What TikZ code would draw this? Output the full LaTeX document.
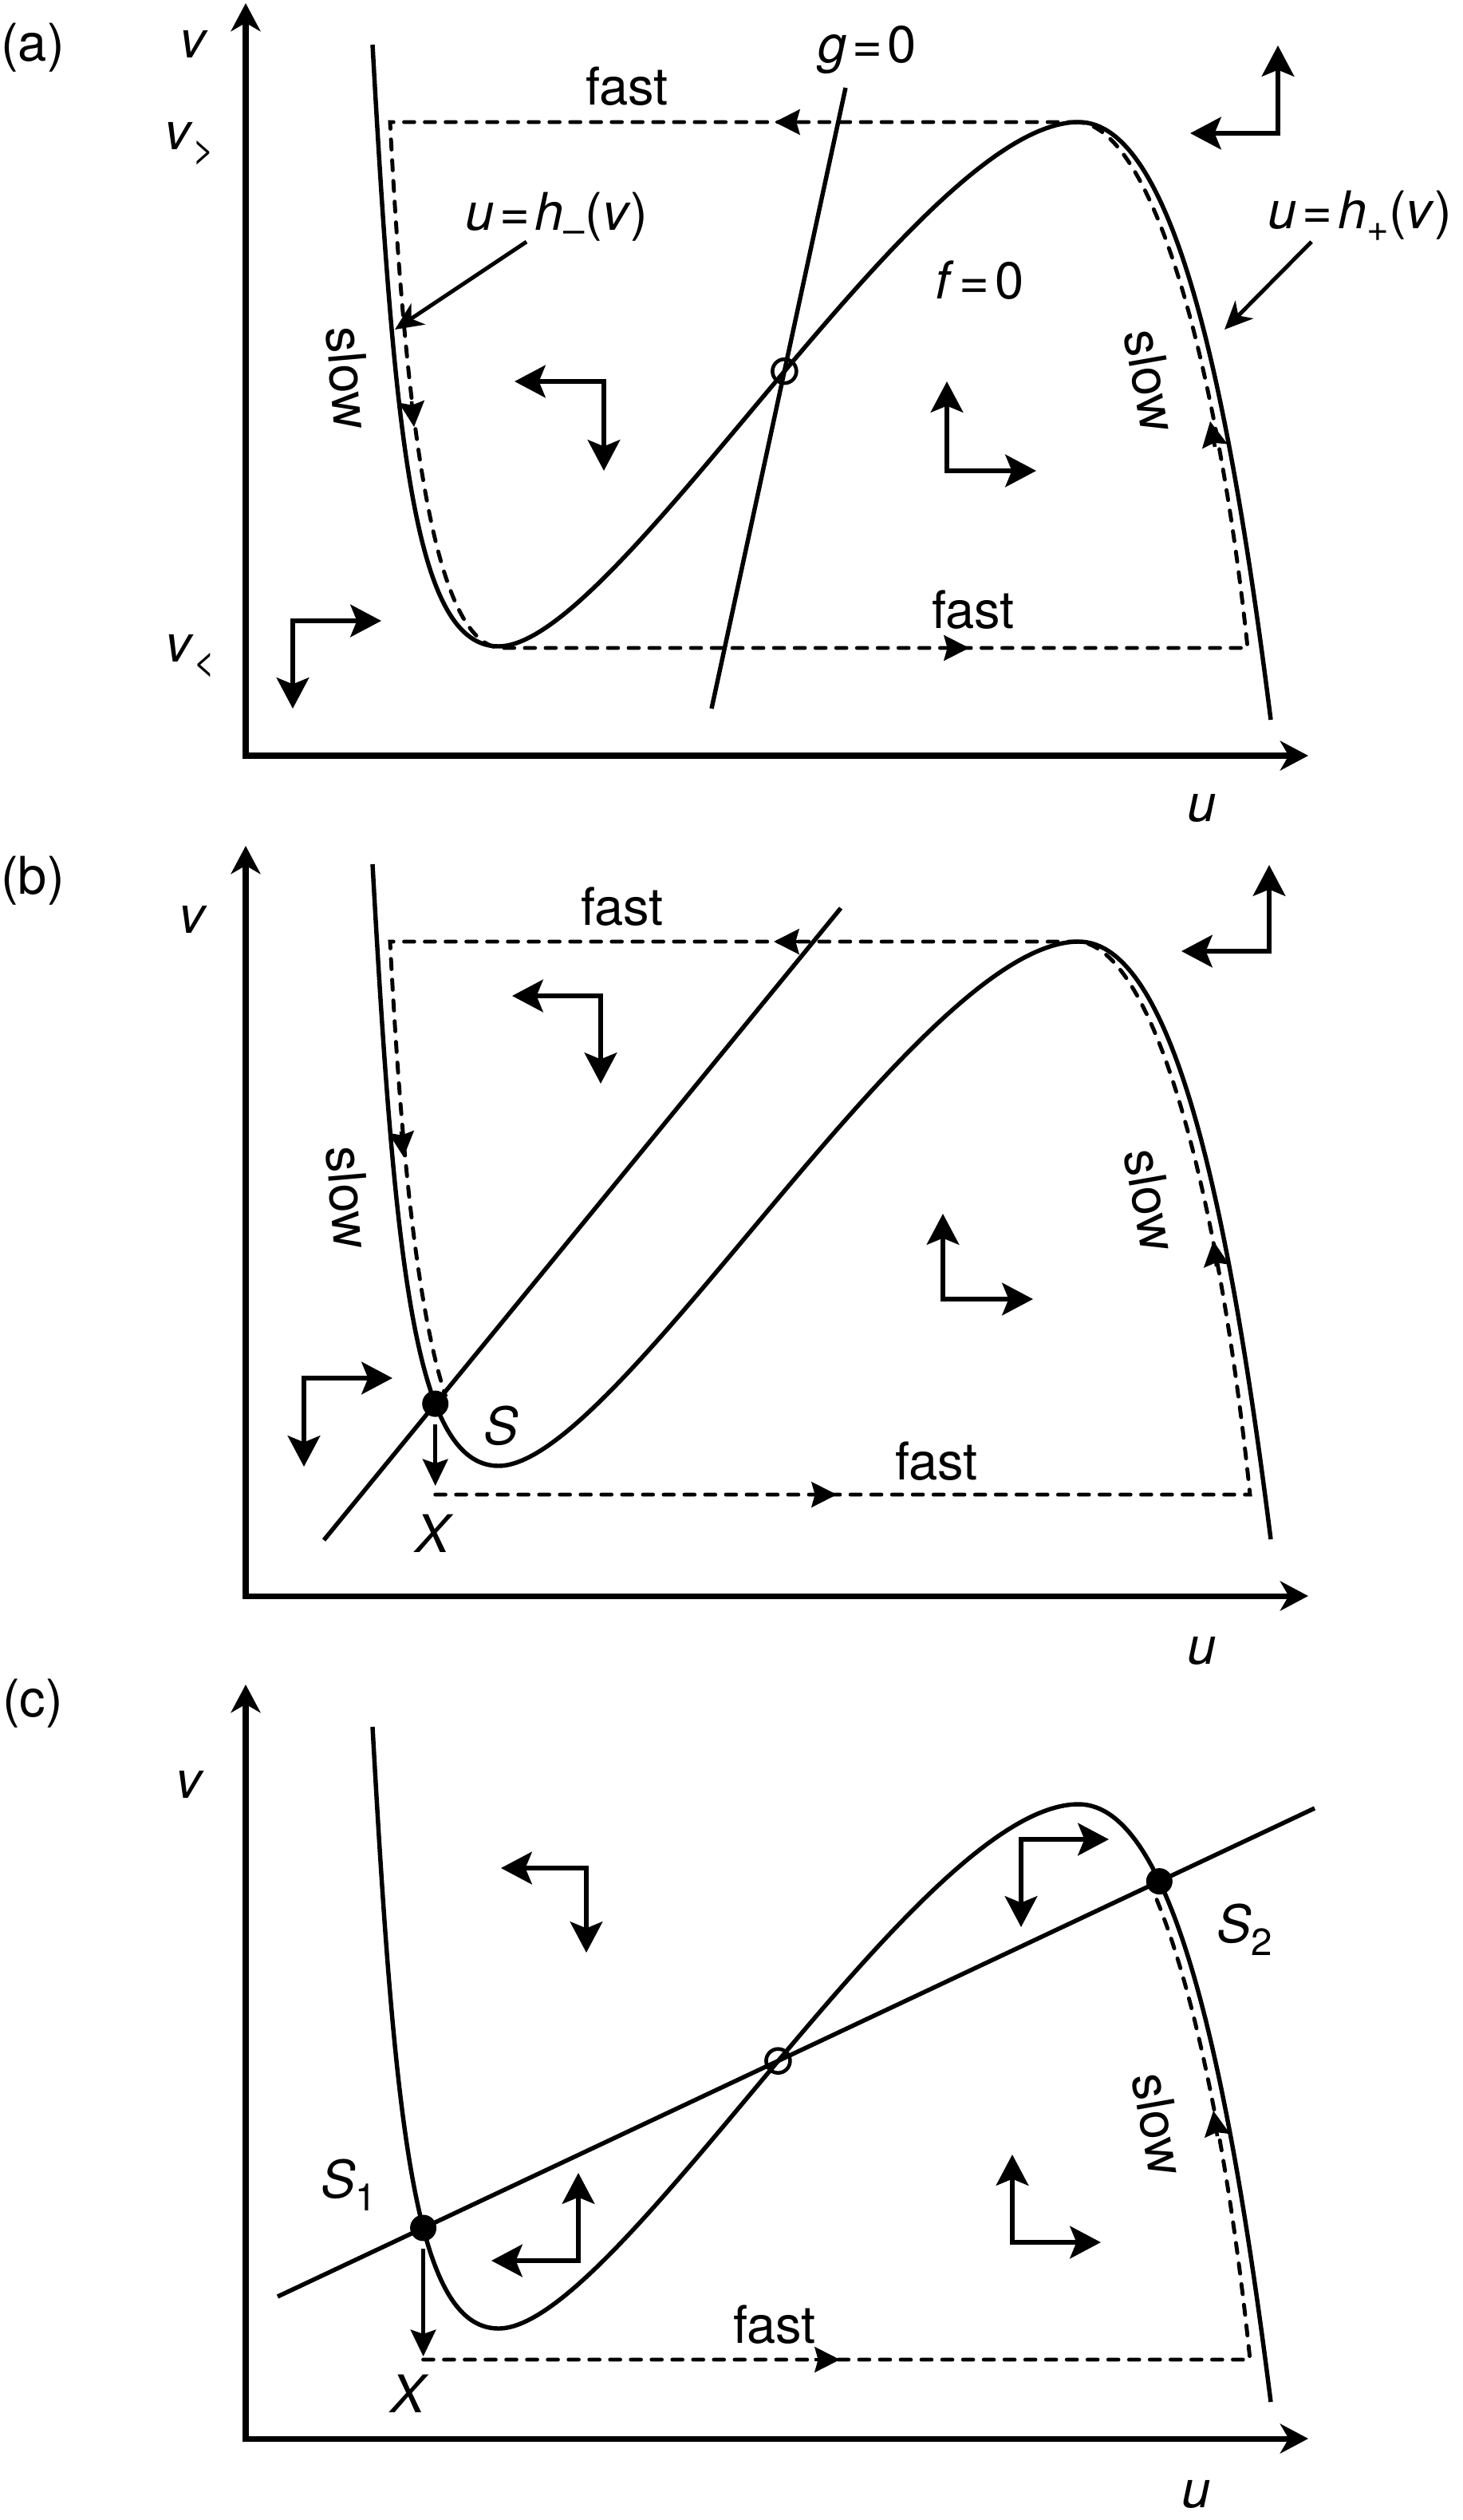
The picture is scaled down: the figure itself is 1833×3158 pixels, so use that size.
\documentclass[tikz,border=0pt]{standalone}
\usepackage{fontspec}
\setmainfont{TeX Gyre Heros}
\usetikzlibrary{arrows.meta,intersections,calc}

\newcommand\lblfont{\fontsize{18.5pt}{22pt}\selectfont}
\newcommand\sbs[1]{\raisebox{-4.5pt}{\fontsize{13.5pt}{13.5pt}\selectfont #1}}
\newcommand\eqs{\hspace{0.1em}=\hspace{0.1em}}
\newcommand\fpath{(467,56) .. controls (495,560) and (520,810) .. (625,810) .. controls (775,810) and (1152,153) .. (1352,153) .. controls (1470,153) and (1540,480) .. (1593,902)}

\tikzset{
  lbl/.style={inner sep=0pt, font=\lblfont},
  axisline/.style={line width=2pt, {Stealth[length=10pt,width=10.5pt,inset=3pt]}-{Stealth[length=10pt,width=10.5pt,inset=3pt]}},
  curve/.style={line width=1.55pt},
  traj/.style={line width=1.4pt, dash pattern=on 3.6pt off 3.8pt, line cap=round},
  trajtip/.style={line width=1.3pt, -{Stealth[length=9pt,width=9pt,inset=1.2pt]}},
  field/.style={line width=1.7pt, {Stealth[length=11pt,width=11.5pt,inset=2.3pt]}-{Stealth[length=11pt,width=11.5pt,inset=2.3pt]}},
  pointer/.style={line width=1.4pt, -{Stealth[length=10pt,width=9pt,inset=3pt]}},
  jump/.style={line width=1.3pt, -{Stealth[length=9.5pt,width=9pt,inset=1.5pt]}}
}

\begin{document}
\begin{tikzpicture}[x={(0.01cm,0)}, y={(0,-0.01cm)}]
\useasboundingbox (0,0) rectangle (1833,3158);

% ================= panel (a) =================
\draw[axisline] (308,4) -- (308,947) -- (1640,947);
\draw[curve, name path global=fa] \fpath;
\draw[curve, name path global=ga] (1060,110) -- (892,888);
\path[name intersections={of=fa and ga, name=ia}];
\draw[line width=1.3pt] (ia-1) circle[radius=15];

\draw[traj] (1352,153) -- (489,153) .. controls (510,560) and (548,812) .. (630,812) -- (1564,812) .. controls (1528,470) and (1448,162) .. (1352,153);
\draw[trajtip] (1003,153) -- (971,153);
\draw[trajtip] (516,503) -- (519,535);
\draw[trajtip] (1183,812) -- (1215,812);
\draw[trajtip] (1523,560) -- (1517,528);

\draw[field] (1492,167) -- (1602,167) -- (1602,57);
\draw[field] (645,478) -- (757,478) -- (757,590);
\draw[field] (1299,590) -- (1187,590) -- (1187,478);
\draw[field] (478,778) -- (367,778) -- (367,888);

\node[lbl] (la) at (41,60) {(a)};
\node[lbl] (va) at (243,55) {\textit{v}};
\node[lbl] (vgt) at (238,180) {\textit{v}\sbs{>}};
\node[lbl] (vlt) at (239,822) {\textit{v}\sbs{<}};
\node[lbl] (ua) at (1507,1013) {\textit{u}};
\node[lbl] (fasta1) at (786,108) {fast};
\node[lbl] (fasta2) at (1220,764) {fast};
\node[lbl] (geq) at (1087,63) {\textit{g}\eqs 0};
\node[lbl] (feq) at (1228,351) {\textit{f}\eqs 0};
\node[lbl] (hm) at (698,273) {\textit{u}\eqs\textit{h}\sbs{–}(\textit{v})};
\node[lbl] (hp) at (1705,271) {\textit{u}\eqs\textit{h}\sbs{+}(\textit{v})};
\node[lbl, rotate=-85] (sla1) at (437,474) {slow};
\node[lbl, rotate=-80] (sla2) at (1443,477) {slow};

\coordinate (hmfrom) at (660,303);
\coordinate (hmtip) at (495,413);
\coordinate (hpfrom) at (1644,303);
\coordinate (hptip) at (1535,413);
\draw[pointer] (hmfrom) -- (hmtip);
\draw[pointer] (hpfrom) -- (hptip);

% ================= panel (b) =================
\draw[axisline] (308,1060) -- (308,2000) -- (1640,2000);
\begin{scope}[shift={(0,1027)}]
  \draw[curve, name path global=fb] \fpath;
\end{scope}
\draw[curve, name path global=gb] (406,1930) -- (1054,1138);
\path[name intersections={of=fb and gb, name=ib}];

\begin{scope}[shift={(0,1027)}]
  \clip (0,0) rectangle (1833,722);
  \draw[traj] (1352,153) -- (489,153) .. controls (510,560) and (548,812) .. (630,812);
\end{scope}
\coordinate (bbot) at (0,1873);
\draw[traj] (ib-1 |- bbot) -- (1567,1873) .. controls (1528,1497) and (1448,1189) .. (1352,1180);
\fill (ib-1) circle[radius=16.5];

\draw[trajtip] (1002,1180) -- (970,1180);
\draw[trajtip] (503,1418) -- (506,1450);
\draw[trajtip] (1017,1873) -- (1049,1873);
\draw[trajtip] (1525,1587) -- (1521,1555);

\coordinate (bjump) at (0,1862);
\draw[jump] ($(ib-1)+(0,26)$) -- (ib-1 |- bjump);

\draw[field] (1481,1192) -- (1591,1192) -- (1591,1084);
\draw[field] (642,1248) -- (753,1248) -- (753,1358);
\draw[field] (1295,1628) -- (1182,1628) -- (1182,1521);
\draw[field] (492,1727) -- (381,1727) -- (381,1838);

\node[lbl] (lb) at (41,1104) {(b)};
\node[lbl] (vb) at (242,1152) {\textit{v}};
\node[lbl] (ub) at (1507,2069) {\textit{u}};
\node[lbl] (fastb1) at (780,1136) {fast};
\node[lbl] (fastb2) at (1174,1831) {fast};
\node[lbl, rotate=-85] (slb1) at (437,1501) {slow};
\node[lbl, rotate=-80] (slb2) at (1443,1504) {slow};
\node[lbl] (sb) at (628,1787) {\textit{S}};
\node[lbl] (xb) at (545,1922) {\textit{X}};

% ================= panel (c) =================
\draw[axisline] (308,2111) -- (308,3056) -- (1640,3056);
\begin{scope}[shift={(0,2108)}]
  \draw[curve, name path global=fc] \fpath;
\end{scope}
\draw[curve, name path global=gc] (348,2878) -- (1648,2266);
\path[name intersections={of=fc and gc, name=ic, sort by=gc}];

\coordinate (cbot) at (0,2957);
\begin{scope}
  \clip (0,2378) rectangle (1833,3158);
  \draw[traj] (ic-1 |- cbot) -- (1567,2957) .. controls (1528,2578) and (1448,2270) .. (1352,2261);
\end{scope}
\fill (ic-1) circle[radius=16.5];
\fill (ic-3) circle[radius=16.5];
\draw[line width=1.3pt] (ic-2) circle[radius=15];

\draw[trajtip] (1021,2957) -- (1053,2957);
\draw[trajtip] (1526,2677) -- (1521,2645);

\coordinate (cjump) at (0,2953);
\draw[jump] ($(ic-1)+(0,26)$) -- (ic-1 |- cjump);

\draw[field] (628,2341) -- (735,2341) -- (735,2447);
\draw[field] (1390,2305) -- (1280,2305) -- (1280,2415);
\draw[field] (616,2833) -- (725,2833) -- (725,2723);
\draw[field] (1380,2810) -- (1269,2810) -- (1269,2700);

\node[lbl] (lc) at (41,2135) {(c)};
\node[lbl] (vc) at (238,2236) {\textit{v}};
\node[lbl] (uc) at (1500,3126) {\textit{u}};
\node[lbl] (fastc) at (971,2913) {fast};
\node[lbl, rotate=-80] (slc) at (1453,2662) {slow};
\node[lbl] (s1) at (437,2738) {\textit{S}\sbs{1}};
\node[lbl] (s2) at (1560,2418) {\textit{S}\sbs{2}};
\node[lbl] (xc) at (514,3000) {\textit{X}};
\end{tikzpicture}
\end{document}
